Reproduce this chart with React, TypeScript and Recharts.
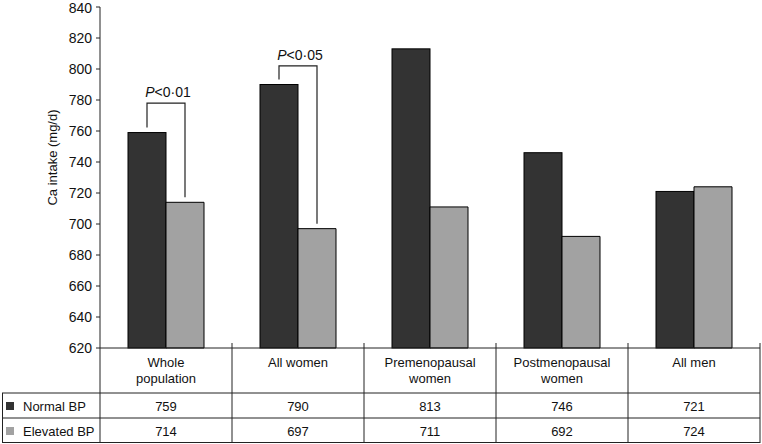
import React from 'react';
import { BarChart, Bar, XAxis, YAxis } from 'recharts';

const categories = ['Whole population', 'All women', 'Premenopausal women', 'Postmenopausal women', 'All men'];
const headerLines = [['Whole', 'population'], ['All women'], ['Premenopausal', 'women'], ['Postmenopausal', 'women'], ['All men']];
const normalBP = [759, 790, 813, 746, 721];
const elevatedBP = [714, 697, 711, 692, 724];
const pLabels = ['0·01', '0·05', '', '', ''];
const bracketTops = [778, 802, 0, 0, 0];
const yTicks = [620, 640, 660, 680, 700, 720, 740, 760, 780, 800, 820, 840];

const Y_MIN = 620;
const DARK = '#333333';
const LIGHT = '#a2a2a2';
const FONT = '"Liberation Sans", Arial, sans-serif';

const data = categories.map((c, i) => ({
  name: c,
  normal: normalBP[i],
  elevated: elevatedBP[i],
  p: pLabels[i],
  top: bracketTops[i],
  idx: i,
}));

// dark bar + the significance bracket that sits over the pair
const NormalShape = (props: any) => {
  const { x, y, width, height, payload } = props;
  const rect = <rect x={x} y={y} width={width} height={height} fill={DARK} stroke="#000" strokeWidth={1} />;
  if (!payload.p) return rect;
  const base = y + height;
  const ppu = height / (payload.normal - Y_MIN);
  const topY = base - (payload.top - Y_MIN) * ppu;
  const grayY = base - (payload.elevated - Y_MIN) * ppu;
  const lx = x + width / 2;
  const rx = x + width * 1.5;
  return (
    <g>
      {rect}
      <path d={`M${lx},${y - 5}V${topY}H${rx}V${grayY - 5}`} fill="none" stroke="#222" strokeWidth={1.2} />
      <text x={(lx + rx) / 2 + 2} y={topY - 6} textAnchor="middle" fontSize={14} fontFamily={FONT} fill="#111">
        <tspan fontStyle="italic">P</tspan>
        <tspan>{'<' + payload.p}</tspan>
      </text>
    </g>
  );
};

// the data table below the plot, one band per category
const TableTick = (props: any) => {
  const { x, y, payload } = props;
  const i = payload.index;
  const half = payload.offset || 66;
  const left = x - half;
  const right = x + half;
  const r1 = y + 45;
  const r2 = y + 70;
  const r3 = y + 95;
  const lines = headerLines[i];
  const lineColor = '#222';
  return (
    <g fontFamily={FONT} fontSize={13} fill="#111">
      <line x1={right} y1={y - 5} x2={right} y2={r3} stroke={lineColor} />
      <line x1={left} y1={r1} x2={right} y2={r1} stroke={lineColor} />
      <line x1={left} y1={r2} x2={right} y2={r2} stroke={lineColor} />
      <line x1={left} y1={r3 - 0.5} x2={right} y2={r3 - 0.5} stroke={lineColor} />
      {lines.map((t, k) => (
        <text key={k} x={x} y={y + 19 + k * 16} textAnchor="middle">{t}</text>
      ))}
      <text x={x} y={r1 + 18} textAnchor="middle">{normalBP[i]}</text>
      <text x={x} y={r2 + 18} textAnchor="middle">{elevatedBP[i]}</text>
      {i === 0 && (
        <g>
          <line x1={left} y1={y} x2={left} y2={r3} stroke={lineColor} />
          <line x1={2} y1={r1} x2={left} y2={r1} stroke={lineColor} />
          <line x1={2} y1={r2} x2={left} y2={r2} stroke={lineColor} />
          <line x1={2} y1={r3 - 0.5} x2={left} y2={r3 - 0.5} stroke={lineColor} />
          <line x1={2.5} y1={r1} x2={2.5} y2={r3} stroke={lineColor} />
          <rect x={6} y={r1 + 9} width={8} height={8} fill={DARK} />
          <rect x={6} y={r2 + 9} width={8} height={8} fill={LIGHT} />
          <text x={23} y={r1 + 18}>Normal BP</text>
          <text x={23} y={r2 + 18}>Elevated BP</text>
        </g>
      )}
    </g>
  );
};

const YLabel = (props: any) => {
  const { viewBox } = props;
  const cx = 52;
  const cy = viewBox.y + viewBox.height / 2 - 20;
  return (
    <text x={cx} y={cy} transform={`rotate(-90, ${cx}, ${cy})`} textAnchor="middle" dominantBaseline="central" fontSize={13} fontFamily={FONT} fill="#111">
      Ca intake (mg/d)
    </text>
  );
};

export default function App() {
  return (
    <div style={{ position: 'absolute', left: 0, top: 0, background: '#fff' }}>
      <BarChart width={762} height={444} data={data} margin={{ top: 7, right: 2, bottom: 1, left: 40 }} barGap={0} barSize={38}>
        <XAxis
          dataKey="name"
          height={95}
          axisLine={{ stroke: '#222' }}
          tickLine={false}
          tickSize={0}
          tickMargin={0}
          interval={0}
          tick={<TableTick />}
        />
        <YAxis
          domain={[620, 840]}
          ticks={yTicks}
          width={60}
          axisLine={{ stroke: '#222' }}
          tickLine={{ stroke: '#222' }}
          tickSize={4}
          tickMargin={4}
          tick={{ fontSize: 14, fill: '#111', fontFamily: FONT }}
          label={<YLabel />}
        />
        <Bar dataKey="normal" isAnimationActive={false} shape={<NormalShape />} />
        <Bar dataKey="elevated" fill={LIGHT} stroke="#000" strokeWidth={1} isAnimationActive={false} />
      </BarChart>
    </div>
  );
}
